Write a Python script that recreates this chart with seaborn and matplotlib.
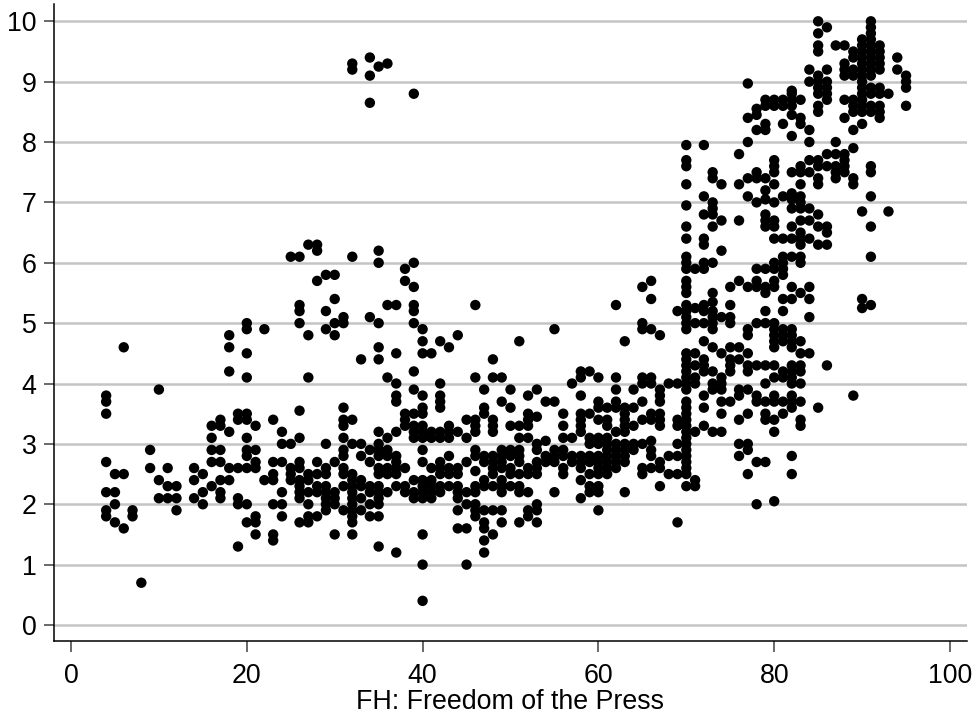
import matplotlib
matplotlib.use("Agg")
import matplotlib.pyplot as plt
import pandas as pd
import seaborn as sns

s04 = [3.8, 3.7, 3.5, 2.7, 2.2, 1.9, 1.8]
s05 = [2.5, 2.2, 2.0, 1.7]
s06 = [4.6, 2.5, 1.6]
s07 = [1.9, 1.8]
s08 = [0.7]
s09 = [2.9, 2.6]
s10 = [3.9, 2.4, 2.1]
s11 = [2.6, 2.3, 2.1]
s12 = [2.3, 2.1, 1.9]
s14 = [2.6, 2.4, 2.1]
s15 = [2.5, 2.2, 2.0]
s16 = [3.3, 3.1, 2.9, 2.7, 2.3]
s17 = [3.4, 3.3, 2.9, 2.7, 2.4, 2.2, 2.1]
s18 = [4.8, 4.6, 4.2, 3.2, 2.6, 2.4]
s19 = [3.5, 3.4, 2.6, 2.1, 2.0, 1.3]
s20 = [5.0, 4.9, 4.5, 4.1, 3.5, 3.4, 3.1, 2.9, 2.8, 2.6, 2.0, 1.7]
s21 = [3.3, 2.9, 2.7, 2.6, 1.8, 1.7, 1.5]
s22 = [4.9, 2.4]
s23 = [3.4, 2.7, 2.5, 2.4, 2.0, 1.5, 1.4]
s24 = [3.2, 3.0, 2.7, 2.2, 2.0, 1.8]
s25 = [6.1, 3.0, 2.6, 2.5, 2.4]
s26 = [6.1, 5.3, 5.2, 5.0, 3.55, 3.1, 2.7, 2.6, 2.4, 2.3, 2.2, 2.1, 1.7]
s27 = [6.3, 4.8, 4.1, 2.5, 2.4, 2.2, 2.0, 1.8, 1.7]
s28 = [6.3, 6.2, 5.7, 2.7, 2.5, 2.3, 2.2, 1.8]
s29 = [5.8, 5.2, 4.9, 3.0, 2.6, 2.5, 2.3, 2.2, 2.1, 2.0, 1.9]
s30 = [5.8, 5.4, 5.0, 4.8, 2.7, 2.2, 2.1, 2.0, 1.5]
s31 = [5.1, 5.0, 3.6, 3.4, 3.3, 3.1, 2.9, 2.8, 2.6, 2.5, 2.3, 1.9]
s32 = [9.3, 9.2, 6.1, 3.4, 3.0, 2.5, 2.4, 2.3, 2.2, 2.1, 2.0, 1.9, 1.8, 1.7, 1.5]
s33 = [4.4, 3.0, 2.8, 2.4, 2.3, 2.1, 1.9]
s34 = [9.4, 9.1, 8.65, 5.1, 2.9, 2.7, 2.3, 2.2, 2.0, 1.8]
s35 = [9.25, 6.2, 6.0, 5.0, 4.6, 4.4, 3.2, 3.0, 2.9, 2.8, 2.6, 2.5, 2.3, 2.2, 2.1, 2.0, 1.8, 1.3]
s36 = [9.3, 5.3, 4.1, 3.1, 2.9, 2.8, 2.6, 2.5, 2.2]
s37 = [5.3, 4.5, 4.0, 3.8, 3.7, 3.2, 2.8, 2.7, 2.6, 2.5, 2.3, 1.2]
s38 = [5.9, 5.7, 3.5, 3.4, 3.3, 2.6, 2.3, 2.2]
s39 = [8.8, 6.0, 5.6, 5.3, 5.2, 5.0, 4.2, 3.9, 3.5, 3.3, 3.2, 3.1, 2.4, 2.2, 2.1]
s40 = [4.9, 4.7, 4.5, 3.8, 3.6, 3.5, 3.3, 3.2, 3.1, 2.9, 2.7, 2.4, 2.3, 2.2, 2.1, 1.5, 1.0, 0.4]
s41 = [4.5, 3.2, 3.1, 2.6, 2.4, 2.3, 2.2, 2.1]
s42 = [4.7, 4.0, 3.8, 3.7, 3.6, 3.2, 3.1, 2.7, 2.6, 2.5, 2.3, 2.2]
s43 = [4.6, 3.3, 3.2, 3.1, 2.8, 2.6, 2.5, 2.3]
s44 = [4.8, 3.2, 2.6, 2.5, 2.3, 2.2, 2.1, 1.9, 1.6]
s45 = [3.4, 3.1, 2.7, 2.2, 2.0, 1.6, 1.0]
s46 = [5.3, 4.1, 3.4, 3.3, 3.2, 2.9, 2.8, 2.55, 2.3, 2.2, 2.0, 1.9, 1.8]
s47 = [3.9, 3.6, 3.5, 2.8, 2.7, 2.4, 2.3, 1.9, 1.7, 1.6, 1.4, 1.2]
s48 = [4.4, 4.1, 3.4, 3.3, 3.2, 2.8, 2.7, 2.6, 2.5, 2.3, 1.9, 1.5]
s49 = [4.1, 3.7, 2.9, 2.8, 2.7, 2.6, 2.4, 2.3, 2.2, 1.9, 1.7]
s50 = [3.9, 3.6, 3.3, 2.9, 2.8, 2.6, 2.5, 2.3]
s51 = [4.7, 3.3, 3.1, 2.9, 2.8, 2.7, 2.5, 2.3, 2.2, 1.7]
s52 = [3.8, 3.5, 3.4, 3.3, 3.1, 2.6, 2.5, 2.2, 1.9, 1.8]
s53 = [3.9, 3.45, 3.0, 2.9, 2.7, 2.6, 2.5, 2.0, 1.9, 1.7]
s54 = [3.7, 3.05, 2.8, 2.7]
s55 = [4.9, 3.7, 2.9, 2.8, 2.7, 2.2]
s56 = [3.5, 3.3, 3.1, 2.9, 2.8, 2.6, 2.5]
s57 = [4.0, 3.1, 2.8, 2.7]
s58 = [4.2, 4.1, 3.8, 3.5, 3.4, 3.3, 3.2, 2.8, 2.7, 2.6, 2.4, 2.1]
s59 = [4.2, 3.5, 3.1, 3.0, 2.8, 2.7, 2.5, 2.3, 2.2]
s60 = [4.1, 3.7, 3.6, 3.4, 3.1, 3.0, 2.8, 2.7, 2.6, 2.5, 2.3, 2.2, 1.9]
s61 = [3.6, 3.4, 3.3, 3.1, 3.0, 2.9, 2.8, 2.7, 2.6, 2.5]
s62 = [5.3, 4.1, 3.9, 3.7, 3.6, 3.2, 3.0, 2.9, 2.8, 2.7, 2.6]
s63 = [4.7, 3.6, 3.5, 3.4, 3.3, 3.2, 3.0, 2.9, 2.8, 2.7, 2.2]
s64 = [3.9, 3.6, 3.3, 3.0, 2.9]
s65 = [5.6, 5.0, 4.9, 4.1, 4.0, 3.7, 3.4, 3.0, 2.6, 2.5]
s66 = [5.7, 5.4, 4.9, 4.1, 4.0, 3.5, 3.4, 3.05, 2.9, 2.8, 2.6]
s67 = [4.8, 3.9, 3.8, 3.7, 3.5, 3.4, 3.3, 2.7, 2.6, 2.3]
s68 = [4.0, 2.8, 2.5]
s69 = [5.2, 4.0, 3.4, 3.3, 3.0, 2.8, 2.5, 1.7]
s70 = [7.95, 7.7, 7.6, 7.3, 6.95, 6.6, 6.4, 6.1, 6.0, 5.9, 5.7, 5.6, 5.5, 5.3, 5.2,
       5.1, 5.0, 4.9, 4.5, 4.4, 4.3, 4.2, 4.1, 4.0, 3.9, 3.7, 3.6, 3.5, 3.4, 3.3, 3.2,
       3.1, 3.0, 2.9, 2.8, 2.7, 2.6, 2.5, 2.3]
s71 = [5.9, 5.25, 5.0, 4.5, 4.3, 4.1, 4.0, 3.2, 2.4, 2.3]
s72 = [7.95, 7.1, 6.8, 6.4, 6.3, 6.0, 5.9, 5.3, 5.2, 5.0, 4.7, 4.4, 4.3, 4.2, 3.8, 3.6, 3.3]
s73 = [7.5, 7.4, 7.0, 6.9, 6.8, 6.6, 6.0, 5.5, 5.35, 5.2, 5.1, 5.0, 4.9, 4.6, 4.2, 4.0, 3.9, 3.2]
s74 = [7.3, 6.7, 6.2, 5.1, 4.5, 4.1, 4.0, 3.9, 3.7, 3.5, 3.2]
s75 = [5.6, 5.3, 5.1, 5.0, 4.6, 4.4, 4.3, 4.2, 3.7]
s76 = [7.8, 7.3, 6.7, 5.7, 4.6, 4.4, 3.9, 3.8, 3.4, 3.0, 2.8]
s77 = [8.97, 8.4, 8.0, 7.4, 7.1, 5.6, 4.9, 4.8, 4.5, 4.3, 4.2, 3.9, 3.5, 3.0, 2.9, 2.5]
s78 = [8.55, 8.45, 8.2, 7.5, 7.4, 7.0, 5.9, 5.7, 5.6, 5.0, 4.3, 3.8, 3.7, 2.7, 2.0]
s79 = [8.7, 8.6, 8.3, 8.2, 7.4, 7.2, 7.05, 6.8, 6.7, 6.6, 5.9, 5.6, 5.5, 5.2, 5.0, 4.3, 4.0, 3.7, 3.5, 3.4, 2.7]
s80 = [8.7, 8.6, 7.7, 7.6, 7.5, 7.3, 7.0, 6.7, 6.6, 6.4, 6.0, 5.9, 5.7, 5.6, 5.0, 4.9,
       4.8, 4.7, 4.6, 4.3, 4.1, 3.8, 3.7, 3.4, 3.2, 2.05]
s81 = [8.7, 8.6, 8.3, 7.1, 6.4, 6.1, 6.0, 5.9, 5.8, 5.4, 5.2, 4.9, 4.8, 4.7, 4.2, 4.1, 3.7, 3.5]
s82 = [8.85, 8.8, 8.7, 8.6, 8.45, 8.1, 7.5, 7.15, 7.05, 6.9, 6.6, 6.4, 6.1, 5.6, 5.4, 4.9,
       4.8, 4.7, 4.6, 4.3, 4.2, 4.1, 4.0, 3.8, 3.7, 3.6, 2.8, 2.5]
s83 = [8.7, 8.4, 8.3, 7.6, 7.5, 7.3, 7.1, 7.0, 6.9, 6.7, 6.5, 6.4, 6.3, 6.1, 6.0, 5.5, 4.7, 4.5, 4.3, 4.2, 4.0, 3.7, 3.4, 3.3]
s84 = [9.2, 9.0, 8.2, 8.0, 7.7, 7.5, 6.9, 6.7, 6.4, 5.6, 5.4, 5.1, 4.5]
s85 = [10.0, 9.8, 9.6, 9.5, 9.1, 9.0, 8.9, 8.8, 8.6, 8.5, 7.7, 7.6, 7.4, 7.3, 6.8, 6.6, 6.3, 3.6]
s86 = [9.9, 9.2, 9.0, 8.9, 8.8, 8.7, 7.8, 7.6, 6.6, 6.5, 6.3, 4.3]
s87 = [9.6, 8.0, 7.8, 7.6, 7.5, 7.4]
s88 = [9.6, 9.3, 9.2, 9.1, 8.7, 8.4, 7.8, 7.7, 7.6, 7.5]
s89 = [9.5, 9.4, 9.2, 9.1, 8.7, 8.6, 8.5, 8.2, 7.9, 7.4, 7.3, 3.8]
s90 = [9.7, 9.6, 9.5, 9.4, 9.3, 9.2, 9.1, 9.0, 8.9, 8.8, 8.7, 8.6, 8.5, 8.3, 6.85, 5.4, 5.25]
s91 = [10.0, 9.9, 9.8, 9.7, 9.6, 9.5, 9.4, 9.3, 9.2, 9.1, 8.9, 8.8, 8.6, 8.5, 7.6, 7.5, 7.1, 6.6, 6.1, 5.3]
s92 = [9.6, 9.5, 9.4, 9.3, 9.2, 8.9, 8.8, 8.6, 8.5, 8.4]
s93 = [8.8, 6.85]
s94 = [9.4, 9.2]
s95 = [9.1, 9.0, 8.9, 8.6]

press_scores = [4, 5, 6, 7, 8, 9, 10, 11, 12, 14, 15, 16, 17, 18, 19, 20, 21, 22, 23, 24, 25,
                26, 27, 28, 29, 30, 31, 32, 33, 34, 35, 36, 37, 38, 39, 40, 41, 42, 43, 44, 45,
                46, 47, 48, 49, 50, 51, 52, 53, 54, 55, 56, 57, 58, 59, 60, 61, 62, 63, 64, 65,
                66, 67, 68, 69, 70, 71, 72, 73, 74, 75, 76, 77, 78, 79, 80, 81, 82, 83, 84, 85,
                86, 87, 88, 89, 90, 91, 92, 93, 94, 95]
index_columns = [s04, s05, s06, s07, s08, s09, s10, s11, s12, s14, s15, s16, s17, s18, s19, s20, s21,
                 s22, s23, s24, s25, s26, s27, s28, s29, s30, s31, s32, s33, s34, s35, s36, s37, s38,
                 s39, s40, s41, s42, s43, s44, s45, s46, s47, s48, s49, s50, s51, s52, s53, s54, s55,
                 s56, s57, s58, s59, s60, s61, s62, s63, s64, s65, s66, s67, s68, s69, s70, s71, s72,
                 s73, s74, s75, s76, s77, s78, s79, s80, s81, s82, s83, s84, s85, s86, s87, s88, s89,
                 s90, s91, s92, s93, s94, s95]
x_ticks = [0, 20, 40, 60, 80, 100]
y_ticks = list(range(11))
x_title = "FH: Freedom of the Press"

df = pd.DataFrame(
    [(p, v) for p, col in zip(press_scores, index_columns) for v in col],
    columns=["press", "index"],
)

sns.set_style("white")
plt.rcParams["font.family"] = ["Liberation Sans", "DejaVu Sans"]

W, H = 975, 713
fig = plt.figure(figsize=(W / 100, H / 100), dpi=100)
L, R, T, B = 54, 967, 4, 641
ax = fig.add_axes([L / W, 1 - B / H, (R - L) / W, (B - T) / H])

ax.set_axisbelow(True)
ax.yaxis.grid(True, color="#c4c4c4", linewidth=1.8)
ax.xaxis.grid(False)

sns.scatterplot(data=df, x="press", y="index", ax=ax, color="black", s=56,
                linewidth=0, edgecolor="none", zorder=3, clip_on=False)

# pixel calibration: x 0 at 71 px, 100 at 950 px; y 0 at 625 px, 10 at 21.3 px
px_x = 8.79
px_y = 60.37
ax.set_xlim((L - 71) / px_x, (R - 71) / px_x)
ax.set_ylim((625 - B) / px_y, (625 - T) / px_y)

ax.set_xticks(x_ticks)
ax.set_yticks(y_ticks)
ax.tick_params(axis="x", which="major", length=8, width=1.1, color="#404040",
               labelsize=19.3, labelcolor="black", pad=7.5, bottom=True)
ax.tick_params(axis="y", which="major", length=7.5, width=1.1, color="#404040",
               labelsize=19.3, labelcolor="black", pad=5, left=True)
ax.set_xlabel(x_title, fontsize=19.3, labelpad=0, color="black")
ax.set_ylabel("")

for side in ["top", "right"]:
    ax.spines[side].set_visible(False)
for side in ["left", "bottom"]:
    ax.spines[side].set_color("black")
    ax.spines[side].set_linewidth(1.1)

fig.savefig("out.png", dpi=100, facecolor="white")
